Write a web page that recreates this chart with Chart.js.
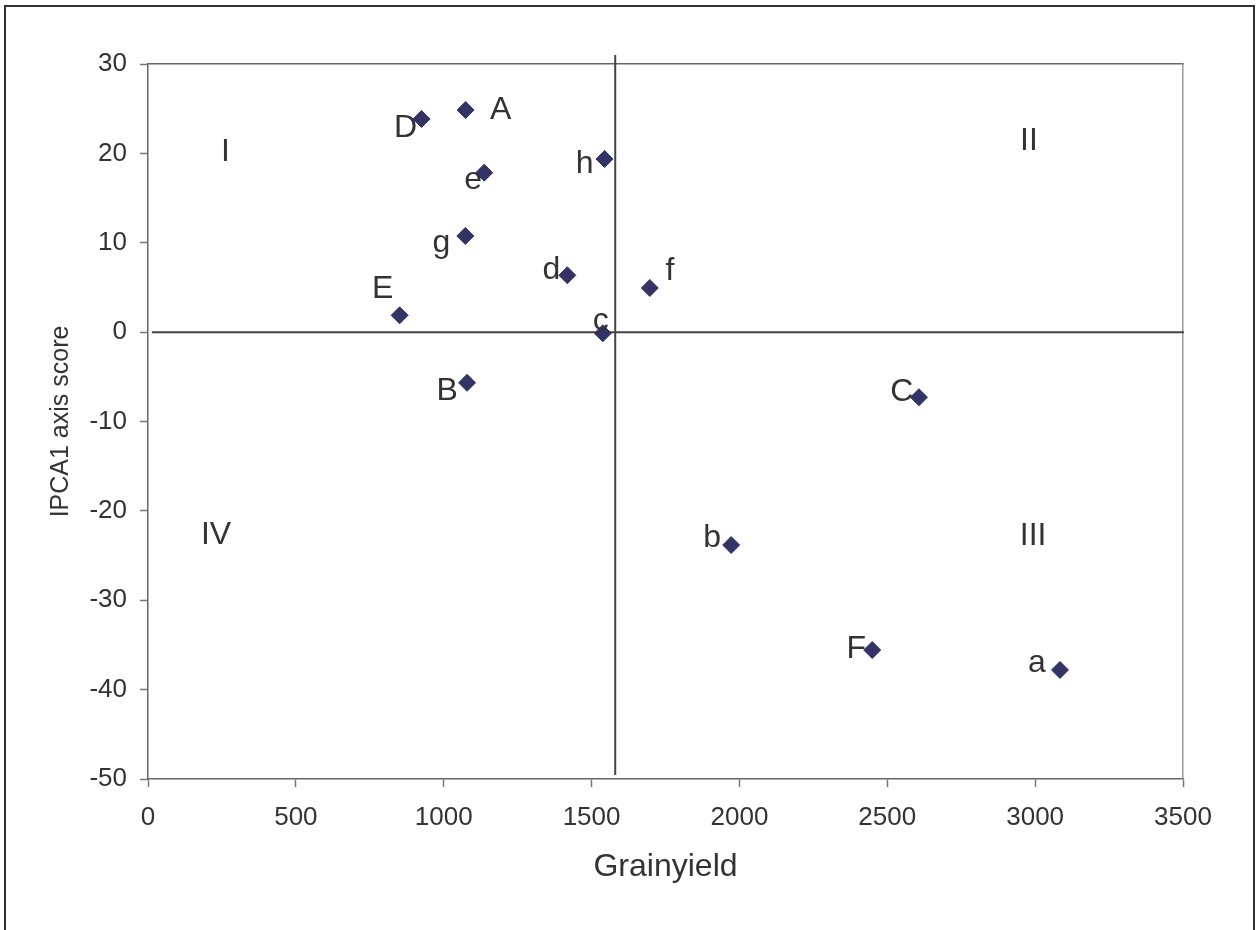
<!DOCTYPE html>
<html>
<head>
<meta charset="utf-8">
<title>Grainyield vs IPCA1</title>
<script src="https://cdn.jsdelivr.net/npm/chart.js@4/dist/chart.umd.min.js"></script>
<style>
  html, body { margin: 0; padding: 0; background: #fff; overflow: hidden; }
  #cadre {
    position: absolute; left: 4px; top: 5px; width: 1251px; height: 1000px;
    box-sizing: border-box; border: 2px solid #333;
  }
  #chartIPCA { position: absolute; left: 0; top: 0; }
</style>
</head>
<body>
<div id="cadre"></div>
<canvas id="chartIPCA" width="1257" height="930"></canvas>
<script>
/* ---------- data ---------- */
var genotypes   = ['A', 'B', 'C', 'D', 'E', 'F', 'a', 'b', 'c', 'd', 'e', 'f', 'g', 'h'];
var grainYield  = [1074, 1079, 2607, 925, 851, 2449, 3084, 1972, 1538, 1418, 1137, 1697, 1073, 1544];
var ipca1Score  = [24.85, -5.67, -7.29, 23.85, 1.88, -35.57, -37.8, -23.82, -0.13, 6.36, 17.84, 4.94, 10.76, 19.37];

// label offset from the marker (px), text drawn on its baseline
var labelDx = [35, -20, -17, -16, -17, -16, -23, -19, -2, -16, -11, 20, -24, -20];
var labelDy = [9, 17, 4, 18, -17, 8, 2, 2, -3, 4, 16, -8, 16, 14];

// quadrant names and where they sit (data units)
var quadrantNames = ['I', 'II', 'III', 'IV'];
var quadrantX     = [262, 2979, 2993, 230];
var quadrantY     = [19.1, 20.4, -23.8, -23.7];

// axes
var xTicks = { min: 0, max: 3500, step: 500 };
var yTicks = { min: -50, max: 30, step: 10 };

// reference lines: mean yield (vertical) and IPCA1 = 0 (horizontal)
var meanLineX = [1580, 1580];
var meanLineY = [31, -49.55];
var zeroLineX = [13, 3503];
var zeroLineY = [0, 0];

/* ---------- build datasets ---------- */
var points = [];
for (var i = 0; i < genotypes.length; i++) {
    points.push({ x: grainYield[i], y: ipca1Score[i] });
}
function toXY(xs, ys) {
    var out = [];
    for (var k = 0; k < xs.length; k++) out.push({ x: xs[k], y: ys[k] });
    return out;
}

var fontFamily = '"Liberation Sans", Arial, sans-serif';
var textColor = '#333';

// labels next to the points + quadrant numbers
const pointLabels = {
    id: 'pointLabels',
    afterDatasetsDraw: function (chart) {
        var ctx = chart.ctx;
        var meta = chart.getDatasetMeta(0);
        ctx.save();
        ctx.fillStyle = textColor;
        ctx.font = '32px ' + fontFamily;
        ctx.textAlign = 'center';
        ctx.textBaseline = 'alphabetic';
        meta.data.forEach(function (pt, idx) {
            ctx.fillText(genotypes[idx], pt.x + labelDx[idx], pt.y + labelDy[idx]);
        });
        var sx = chart.scales.x, sy = chart.scales.y;
        for (var q = 0; q < quadrantNames.length; q++) {
            ctx.fillText(quadrantNames[q], sx.getPixelForValue(quadrantX[q]), sy.getPixelForValue(quadrantY[q]));
        }
        ctx.restore();
    }
};

const ctxElem = document.getElementById('chartIPCA').getContext('2d');

new Chart(ctxElem, {
    type: 'scatter',
    data: {
        datasets: [
            {
                label: 'Genotypes',
                data: points,
                pointStyle: 'rectRot',
                pointRadius: 8.5,
                backgroundColor: '#333366',
                borderColor: '#333366',
                borderWidth: 1
            },
            {
                label: 'mean',
                data: toXY(meanLineX, meanLineY),
                showLine: true,
                pointRadius: 0,
                borderColor: '#444',
                borderWidth: 2,
                clip: false
            },
            {
                label: 'zero',
                data: toXY(zeroLineX, zeroLineY),
                showLine: true,
                pointRadius: 0,
                borderColor: '#444',
                borderWidth: 2,
                clip: false
            }
        ]
    },
    options: {
        responsive: false,
        animation: false,
        layout: { padding: { left: 0, top: 64, right: 74, bottom: 0 } },
        plugins: {
            legend: { display: false },
            tooltip: { enabled: false }
        },
        scales: {
            x: {
                type: 'linear',
                position: 'bottom',
                min: xTicks.min,
                max: xTicks.max,
                afterFit: function (s) { s.height = 151; },
                ticks: {
                    stepSize: xTicks.step,
                    color: textColor,
                    padding: 15,
                    maxRotation: 0,
                    font: { family: fontFamily, size: 26 },
                    callback: function (value) { return String(value); } // no thousands separator
                },
                grid: { drawOnChartArea: false, tickLength: 8, color: '#777', tickWidth: 1.5 },
                border: { color: '#666', width: 1.5 },
                title: {
                    display: true,
                    text: 'Grainyield',
                    color: textColor,
                    font: { family: fontFamily, size: 32 },
                    padding: { top: 0, bottom: 44 }
                }
            },
            y: {
                type: 'linear',
                position: 'left',
                min: yTicks.min,
                max: yTicks.max,
                afterFit: function (s) { s.width = 148; },
                ticks: {
                    stepSize: yTicks.step,
                    color: textColor,
                    padding: 13,
                    font: { family: fontFamily, size: 26 }
                },
                grid: { drawOnChartArea: false, tickLength: 8, color: '#777', tickWidth: 1.5 },
                border: { color: '#666', width: 1.5 },
                title: {
                    display: true,
                    text: 'IPCA1 axis score',
                    color: textColor,
                    font: { family: fontFamily, size: 25 },
                    padding: { top: 46, bottom: 0 }
                }
            },
            // plot area frame (top / right)
            xTop: {
                type: 'linear',
                position: 'top',
                min: xTicks.min,
                max: xTicks.max,
                afterFit: function (s) { s.height = 0; },
                ticks: { display: false },
                grid: { display: false },
                border: { color: '#666', width: 1.5 }
            },
            yRight: {
                type: 'linear',
                position: 'right',
                min: yTicks.min,
                max: yTicks.max,
                afterFit: function (s) { s.width = 0; },
                ticks: { display: false },
                grid: { display: false },
                border: { color: '#999', width: 1.5 }
            }
        }
    },
    plugins: [pointLabels]
});
</script>
</body>
</html>
